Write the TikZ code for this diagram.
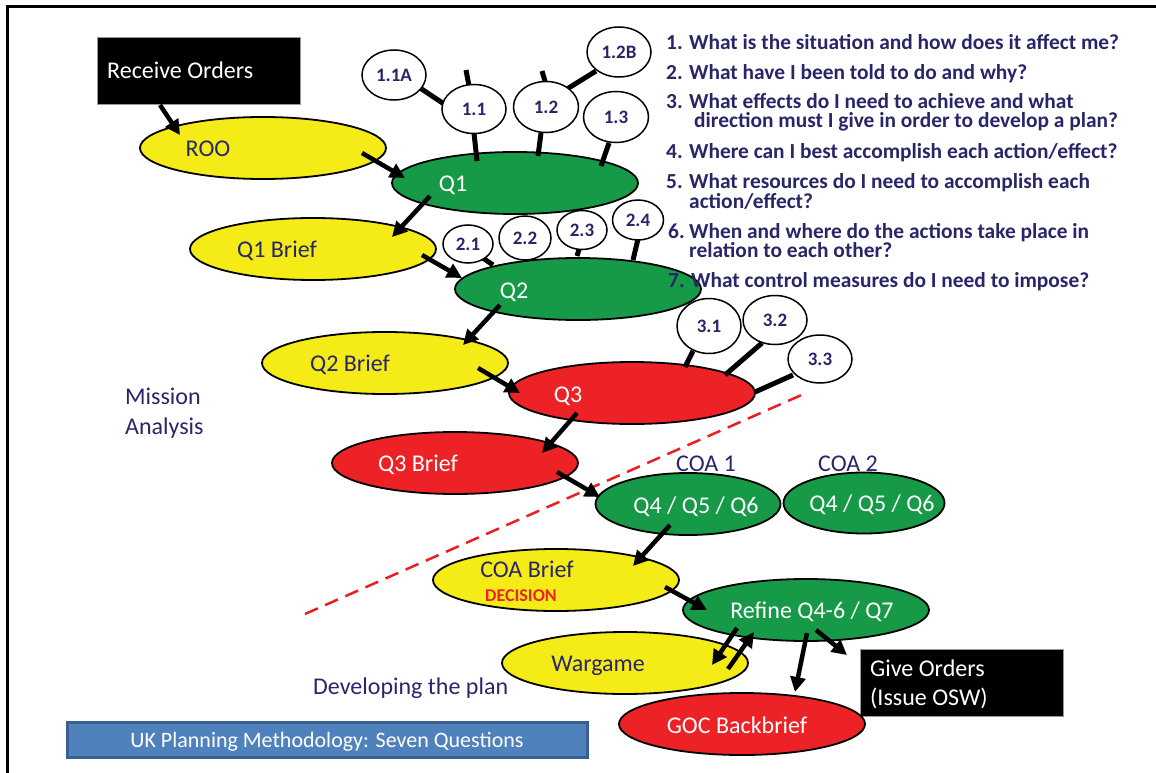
\documentclass[tikz,border=0pt]{standalone}
\usepackage{fontspec}
\setmainfont{Carlito}
\usetikzlibrary{shapes.geometric,arrows.meta}
\definecolor{navy}{RGB}{40,38,104}
\definecolor{ovalyellow}{RGB}{245,235,22}
\definecolor{ovalgreen}{RGB}{22,154,72}
\definecolor{ovalred}{RGB}{236,34,39}
\definecolor{bannerfill}{RGB}{79,129,189}
\definecolor{bannerline}{RGB}{58,96,145}
\definecolor{cutred}{RGB}{236,30,36}
\pgfdeclarelayer{ovals}
\pgfdeclarelayer{links}
\pgfsetlayers{ovals,links,main}
\begin{document}
\begin{tikzpicture}[x=1pt,y=-1pt,
  oval/.style={ellipse, draw=black, line width=1.8pt, inner sep=0pt},
  big/.style={oval, minimum width=246pt, minimum height=62pt},
  yel/.style={big, fill=ovalyellow},
  grn/.style={big, fill=ovalgreen},
  rd/.style={big, fill=ovalred},
  bubble/.style={oval, fill=white, line width=1.5pt, text=navy,
    font=\fontsize{19}{21}\selectfont\bfseries},
  lbl/.style={inner sep=0pt, anchor=base, font=\fontsize{24}{28}\selectfont},
  dark/.style={lbl, text=navy},
  light/.style={lbl, text=white},
  ques/.style={inner sep=0pt, anchor=base west, text=navy,
    font=\fontsize{21.4}{22}\selectfont\bfseries},
  orders/.style={fill=black, draw=black!40, line width=0.6pt,
    minimum width=203pt, minimum height=67pt, inner sep=0pt},
  arr/.style={line width=4.5pt, -{Triangle[length=15pt,width=15pt]}},
  link/.style={line width=5pt},
  cut/.style={draw=cutred, line width=2.5pt, dash pattern=on 14pt off 8pt},
]
\useasboundingbox (0,0) rectangle (1156,773);

% ---------- frame, decision line, ovals and boxes ----------
\begin{pgfonlayer}{ovals}
  \coordinate (frameB) at (7,776);
  \coordinate (frameC) at (7,7);
  \coordinate (frameD) at (1160,7);
  \draw[line width=3pt] (frameB) -- (frameC) -- (frameD);

  \coordinate (cutS) at (305,614);
  \coordinate (cutE) at (806,393);
  \draw[cut] (cutS) -- (cutE);

  \node[orders] (recv) at (198.5,70.5) {};
  \node[orders] (give) at (961.5,682.5) {};

  \node[yel] (roo) at (263,148) {};
  \node[grn] (q1) at (515,183) {};
  \node[yel] (q1b) at (313,249) {};
  \node[grn] (q2) at (578,289) {};
  \node[yel] (q2b) at (385,363) {};
  \node[rd]  (q3) at (632,393) {};
  \node[rd]  (q3b) at (455,463) {};
  \node[grn, minimum width=185pt] (coa1) at (688,504) {};
  \node[grn, minimum width=161pt, minimum height=61pt] (coa2) at (864,503) {};
  \node[yel] (coab) at (556,580) {};
  \node[grn] (ref) at (806,610) {};
  \node[yel] (war) at (625,663) {};
  \node[rd]  (goc) at (742,724) {};

  \node[draw=bannerline, fill=bannerfill, line width=3pt, minimum width=520pt,
        minimum height=35pt, inner sep=0pt, text=white, text height=16pt,
        text depth=0pt, font=\fontsize{22}{24}\selectfont]
        (banner) at (327,739.5) {UK Planning Methodology: Seven Questions};
\end{pgfonlayer}

% ---------- texts in the ovals and boxes ----------
\node[lbl, anchor=base west, text=white] (recv-t) at (107,79) {Receive Orders};
\node[lbl, anchor=base west, text=white] (give-t1) at (870,676) {Give Orders};
\node[lbl, anchor=base west, text=white] (give-t2) at (870,705) {(Issue OSW)};

\node[dark]  (roo-t)  at (208,157) {ROO};
\node[light] (q1-t)   at (453,191) {Q1};
\node[dark]  (q1b-t)  at (277,257) {Q1 Brief};
\node[light] (q2-t)   at (514,298) {Q2};
\node[dark]  (q2b-t)  at (350,371) {Q2 Brief};
\node[light] (q3-t)   at (568,402) {Q3};
\node[light] (q3b-t)  at (418,471) {Q3 Brief};
\node[light] (coa1-t) at (696,513) {Q4 / Q5 / Q6};
\node[light] (coa2-t) at (872,511) {Q4 / Q5 / Q6};
\node[dark]  (coab-t) at (527,577) {COA Brief};
\node[inner sep=0pt, anchor=base, text=ovalred,
      font=\fontsize{18}{20}\selectfont\bfseries] (coab-d) at (521,601) {DECISION};
\node[light] (ref-t)  at (812,618) {Refine Q4-6 / Q7};
\node[dark]  (war-t)  at (598,671) {Wargame};
\node[light] (goc-t)  at (737,733) {GOC Backbrief};

\node[dark] (coa1-l) at (706,471) {COA 1};
\node[dark] (coa2-l) at (848,471) {COA 2};

\node[dark, anchor=base west] (ma1) at (125,404) {Mission};
\node[dark, anchor=base west] (ma2) at (125,434) {Analysis};
\node[dark, anchor=base west] (dev) at (313,694) {Developing the plan};

% ---------- the seven questions ----------
\node[ques] (qa)  at (666,50)  {\makebox[23pt][l]{1.}What is the situation and how does it affect me?};
\node[ques] (qb)  at (666,80)  {\makebox[23pt][l]{2.}What have I been told to do and why?};
\node[ques] (qc)  at (666,109) {\makebox[23pt][l]{3.}What effects do I need to achieve and what};
\node[ques] (qc2) at (694,128) {direction must I give in order to develop a plan?};
\node[ques] (qd)  at (666,158) {\makebox[23pt][l]{4.}Where can I best accomplish each action/effect?};
\node[ques] (qe)  at (666,188) {\makebox[23pt][l]{5.}What resources do I need to accomplish each};
\node[ques] (qe2) at (689,208) {action/effect?};
\node[ques] (qf)  at (668,238) {\makebox[21pt][l]{6.}When and where do the actions take place in};
\node[ques] (qf2) at (689,257) {relation to each other?};
\node[ques] (qg)  at (668,287) {7. What control measures do I need to impose?};

% ---------- sub-question bubbles ----------
\node[bubble, minimum width=64pt, minimum height=50pt] (c11a) at (394,75)  {1.1A};
\node[bubble, minimum width=64pt, minimum height=49pt] (c11)  at (474,109) {1.1};
\node[bubble, minimum width=65pt, minimum height=51pt] (c12)  at (546,107) {1.2};
\node[bubble, minimum width=64pt, minimum height=50pt] (c12b) at (619,52)  {1.2B};
\node[bubble, minimum width=65pt, minimum height=51pt] (c13)  at (616,117) {1.3};

\node[bubble, minimum width=50pt, minimum height=38pt] (c21) at (468,244) {2.1};
\node[bubble, minimum width=52pt, minimum height=44pt] (c22) at (525,238) {2.2};
\node[bubble, minimum width=50pt, minimum height=39pt] (c23) at (582,230) {2.3};
\node[bubble, minimum width=51pt, minimum height=40pt] (c24) at (638,220) {2.4};

\node[bubble, minimum width=64pt, minimum height=55pt] (c31) at (709,326) {3.1};
\node[bubble, minimum width=64pt, minimum height=49pt] (c32) at (775,320) {3.2};
\node[bubble, minimum width=64pt, minimum height=48pt] (c33) at (820,359) {3.3};

% ---------- stalks joining bubbles ----------
\coordinate (s11a) at ([shift={(-8,-39)}]c11.center);
\coordinate (s11b) at ([shift={(-5,-23)}]c11.center);
\coordinate (s12a) at ([shift={(-4,-36)}]c12.center);
\coordinate (s12b) at ([shift={(1,-19)}]c12.center);
\begin{pgfonlayer}{links}
  \draw[link] ([shift={(26,13)}]c11a.center) -- ([shift={(-30,-5)}]c11.center);
  \draw[link] (s11a) -- (s11b);
  \draw[link] ([shift={(0,24)}]c11.center) -- ([shift={(-38,-22)}]q1.center);
  \draw[link] (s12a) -- (s12b);
  \draw[link] ([shift={(21,-18)}]c12.center) -- ([shift={(-23,19)}]c12b.center);
  \draw[link] ([shift={(-5,26)}]c12.center) -- ([shift={(23,-27)}]q1.center);
  \draw[link] ([shift={(-7,26)}]c13.center) -- ([shift={(86,-17)}]q1.center);

  \draw[link] ([shift={(12,12)}]c21.center) -- ([shift={(-85,-24)}]q2.center);
  \draw[link] ([shift={(4,9)}]c22.center) -- ([shift={(-44,-29)}]q2.center);
  \draw[link] ([shift={(-2,16)}]c23.center) -- ([shift={(-1,-33)}]q2.center);
  \draw[link] ([shift={(0,19)}]c24.center) -- ([shift={(55,-29)}]q2.center);

  \draw[link] ([shift={(-16,25)}]c31.center) -- ([shift={(53,-26)}]q3.center);
  \draw[link] ([shift={(-13,23)}]c32.center) -- ([shift={(93,-18)}]q3.center);
  \draw[link] ([shift={(-27,16)}]c33.center) -- ([shift={(123,-1)}]q3.center);
\end{pgfonlayer}

% ---------- flow arrows ----------
\draw[arr] ([shift={(-38.5,34.5)}]recv.center) -- ([shift={(-83,-13)}]roo.center);
\draw[arr] ([shift={(99,5)}]roo.center) -- ([shift={(-110,-5)}]q1.center);
\draw[arr] ([shift={(-85,13)}]q1.center) -- ([shift={(79,-12)}]q1b.center);
\draw[arr] ([shift={(109,6)}]q1b.center) -- ([shift={(-116,-11)}]q2.center);
\draw[arr] ([shift={(-78,16)}]q2.center) -- ([shift={(78,-18)}]q2b.center);
\draw[arr] ([shift={(93,5)}]q2b.center) -- ([shift={(-112,0)}]q3.center);
\draw[arr] ([shift={(-55,20)}]q3.center) -- ([shift={(87,-10)}]q3b.center);
\draw[arr] ([shift={(102,9)}]q3b.center) -- ([shift={(-88,-7)}]coa1.center);
\draw[arr] ([shift={(-18,21)}]coa1.center) -- ([shift={(77,-14)}]coab.center);
\draw[arr] ([shift={(109,7)}]coab.center) -- ([shift={(-99,0)}]ref.center);
\draw[arr] ([shift={(-69,18)}]ref.center) -- ([shift={(87,2)}]war.center);
\draw[arr] ([shift={(103,6)}]war.center) -- ([shift={(-52,22)}]ref.center);
\draw[arr] ([shift={(1,23)}]ref.center) -- ([shift={(53,-32)}]goc.center);
\draw[arr] ([shift={(10,20)}]ref.center) -- ([shift={(-114.5,-27.5)}]give.center);
\end{tikzpicture}
\end{document}
